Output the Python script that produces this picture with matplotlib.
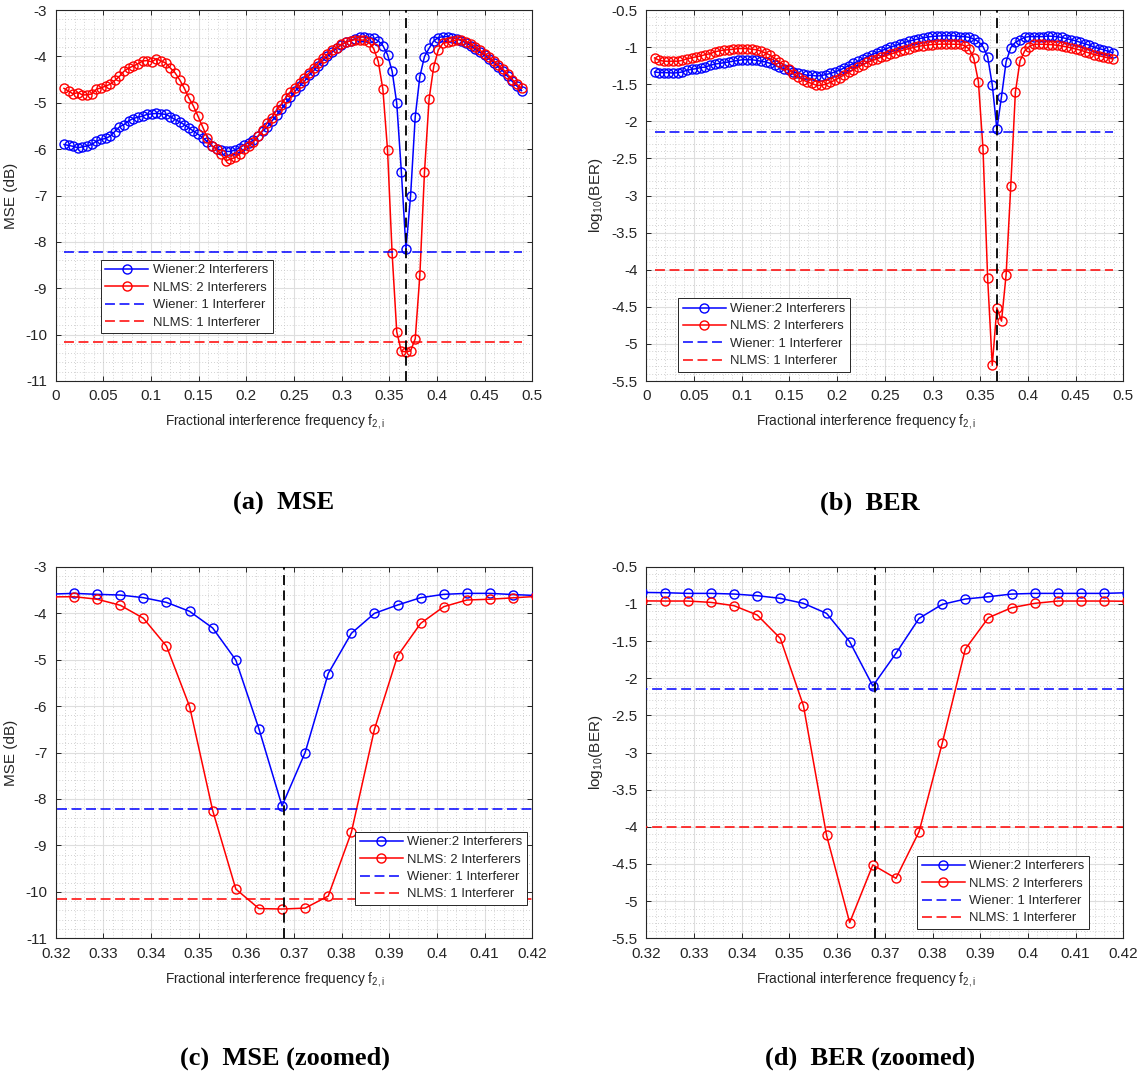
import numpy as np
import matplotlib
matplotlib.use("Agg")
import matplotlib.pyplot as plt
from matplotlib.ticker import MultipleLocator, FuncFormatter

plt.rcParams['font.family'] = ['Liberation Sans', 'DejaVu Sans']
plt.rcParams['axes.unicode_minus'] = False
plt.rcParams['mathtext.fontset'] = 'custom'
plt.rcParams['mathtext.rm'] = 'Liberation Sans'
plt.rcParams['mathtext.it'] = 'Liberation Sans'

# Fractional frequency grid of the second interferer (100 points)
freq = np.linspace(0.0087, 0.4887, 100)
f_interferer = 0.368

# MSE (dB) with two interferers
mse_wiener = [
    -5.90, -5.92, -5.94, -5.97, -5.95, -5.93, -5.90, -5.83, -5.79, -5.77,
    -5.72, -5.62, -5.52, -5.47, -5.39, -5.34, -5.31, -5.29, -5.25, -5.24,
    -5.23, -5.24, -5.25, -5.30, -5.36, -5.41, -5.47, -5.54, -5.61, -5.68,
    -5.75, -5.84, -5.93, -5.99, -6.02, -6.05, -6.05, -6.02, -5.97, -5.91,
    -5.86, -5.81, -5.72, -5.61, -5.52, -5.39, -5.27, -5.14, -5.01, -4.88,
    -4.75, -4.64, -4.54, -4.41, -4.31, -4.20, -4.09, -4.00, -3.91, -3.82,
    -3.75, -3.69, -3.66, -3.62, -3.59, -3.574, -3.595, -3.61, -3.667, -3.768,
    -3.961, -4.32, -5.01, -6.49, -8.15, -7.00, -5.30, -4.435, -4.004, -3.825,
    -3.667, -3.595, -3.574, -3.574, -3.60, -3.62, -3.66, -3.71, -3.77, -3.84,
    -3.91, -3.98, -4.05, -4.14, -4.23, -4.32, -4.43, -4.54, -4.64, -4.74,
]
mse_nlms = [
    -4.69, -4.75, -4.81, -4.78, -4.83, -4.83, -4.81, -4.71, -4.68, -4.64,
    -4.60, -4.52, -4.43, -4.32, -4.25, -4.21, -4.16, -4.10, -4.09, -4.12,
    -4.05, -4.10, -4.14, -4.25, -4.35, -4.50, -4.68, -4.89, -5.07, -5.29,
    -5.52, -5.75, -5.93, -6.00, -6.11, -6.25, -6.22, -6.18, -6.11, -6.00,
    -5.93, -5.84, -5.72, -5.59, -5.43, -5.32, -5.16, -5.04, -4.89, -4.76,
    -4.68, -4.57, -4.46, -4.36, -4.25, -4.14, -4.04, -3.95, -3.87, -3.81,
    -3.74, -3.70, -3.66, -3.64, -3.65, -3.646, -3.70, -3.83, -4.11, -4.71,
    -6.01, -8.25, -9.94, -10.36, -10.37, -10.35, -10.09, -8.72, -6.50, -4.92,
    -4.22, -3.86, -3.717, -3.70, -3.67, -3.64, -3.64, -3.68, -3.73, -3.80,
    -3.87, -3.94, -4.02, -4.10, -4.19, -4.28, -4.39, -4.50, -4.60, -4.69,
]

# log10(BER) with two interferers
ber_wiener = [
    -1.335, -1.344, -1.345, -1.345, -1.35, -1.345, -1.335, -1.31, -1.30, -1.29,
    -1.275, -1.27, -1.245, -1.23, -1.22, -1.21, -1.20, -1.19, -1.18, -1.17,
    -1.17, -1.17, -1.18, -1.19, -1.20, -1.22, -1.245, -1.27, -1.29, -1.31,
    -1.335, -1.35, -1.365, -1.38, -1.38, -1.39, -1.385, -1.37, -1.355, -1.335,
    -1.31, -1.28, -1.25, -1.22, -1.19, -1.16, -1.13, -1.10, -1.075, -1.05,
    -1.025, -1.00, -0.98, -0.96, -0.94, -0.92, -0.905, -0.89, -0.875, -0.865,
    -0.857, -0.852, -0.848, -0.846, -0.846, -0.85, -0.859, -0.859, -0.868, -0.89,
    -0.926, -0.993, -1.128, -1.509, -2.105, -1.666, -1.195, -1.007, -0.935, -0.904,
    -0.868, -0.859, -0.859, -0.859, -0.859, -0.85, -0.855, -0.86, -0.87, -0.885,
    -0.90, -0.915, -0.935, -0.955, -0.975, -1.00, -1.02, -1.035, -1.055, -1.075,
]
ber_nlms = [
    -1.146, -1.178, -1.19, -1.19, -1.19, -1.19, -1.18, -1.155, -1.146, -1.13,
    -1.12, -1.10, -1.09, -1.065, -1.05, -1.04, -1.035, -1.03, -1.02, -1.02,
    -1.02, -1.03, -1.035, -1.055, -1.08, -1.11, -1.155, -1.20, -1.245, -1.30,
    -1.36, -1.40, -1.44, -1.47, -1.49, -1.515, -1.515, -1.50, -1.475, -1.445,
    -1.41, -1.375, -1.34, -1.305, -1.27, -1.235, -1.205, -1.18, -1.16, -1.135,
    -1.115, -1.095, -1.075, -1.055, -1.035, -1.02, -1.005, -0.99, -0.98, -0.972,
    -0.966, -0.962, -0.96, -0.96, -0.96, -0.962, -0.962, -0.98, -1.025, -1.15,
    -1.464, -2.37, -4.114, -5.289, -4.513, -4.693, -4.065, -2.877, -1.608, -1.186,
    -1.052, -0.993, -0.962, -0.962, -0.962, -0.965, -0.968, -0.975, -0.985, -0.995,
    -1.01, -1.025, -1.04, -1.06, -1.08, -1.10, -1.115, -1.13, -1.145, -1.16,
]

# Single-interferer reference levels
mse_wiener_1 = -8.22
mse_nlms_1 = -10.15
ber_wiener_1 = -2.14
ber_nlms_1 = -4.0

BLUE = (0, 0, 1)
RED = (1, 0, 0)
AXC = '#262626'

W, H = 1139, 1076
fig = plt.figure(figsize=(W / 100, H / 100), dpi=100)


def fig_axes(x0, y0, x1, y1):
    return fig.add_axes([x0 / W, 1 - y1 / H, (x1 - x0) / W, (y1 - y0) / H])


def fmt(v, pos):
    return '%g' % round(v, 6)


def draw(ax, y2w, y2n, y1w, y1n, xlim, ylim, xmaj, xmin, ymaj, ymin,
         ylabel, leg_loc, leg_anchor):
    ax.plot(freq, y2w, '-o', color=BLUE, mfc='none', ms=6.5, mew=1.0, lw=1.1,
            label='Wiener:2 Interferers', zorder=3)
    ax.plot(freq, y2n, '-o', color=RED, mfc='none', ms=6.5, mew=1.0, lw=1.1,
            label='NLMS: 2 Interferers', zorder=3)
    ax.plot([freq[0], freq[-1]], [y1w, y1w], color=BLUE, lw=1.1,
            dashes=(6.5, 3.0), label='Wiener: 1 Interferer', zorder=3)
    ax.plot([freq[0], freq[-1]], [y1n, y1n], color=RED, lw=1.1,
            dashes=(6.5, 3.0), label='NLMS: 1 Interferer', zorder=3)
    ax.axvline(f_interferer, color='black', lw=1.3, dashes=(5.5, 3.0), zorder=4)

    ax.set_xlim(*xlim)
    ax.set_ylim(*ylim)
    ax.xaxis.set_major_locator(MultipleLocator(xmaj))
    ax.xaxis.set_minor_locator(MultipleLocator(xmin))
    ax.yaxis.set_major_locator(MultipleLocator(ymaj))
    ax.yaxis.set_minor_locator(MultipleLocator(ymin))
    ax.xaxis.set_major_formatter(FuncFormatter(fmt))
    ax.yaxis.set_major_formatter(FuncFormatter(fmt))
    ax.grid(True, which='major', color='#dedede', lw=0.8, ls='-', zorder=0)
    ax.grid(True, which='minor', color='#c4c4c4', lw=0.6, ls=(0, (1, 2.5)), zorder=0)
    ax.set_axisbelow(True)
    ax.tick_params(which='major', direction='in', length=3.6, width=0.7,
                   top=True, right=True, colors=AXC, labelsize=11, pad=6)
    ax.tick_params(which='minor', length=0, top=True, right=True)
    for s in ax.spines.values():
        s.set_color(AXC)
        s.set_linewidth(0.8)

    ax.set_xlabel(r'Fractional interference frequency f$_{\mathrm{2,i}}$',
                  fontsize=9.8, color=AXC)
    ax.xaxis.set_label_coords(0.46, -0.084)
    ax.set_ylabel(ylabel, fontsize=11, color=AXC, labelpad=5)

    leg = ax.legend(loc=leg_loc, bbox_to_anchor=leg_anchor, borderaxespad=0,
                    fontsize=9.4, handlelength=3.3, handletextpad=0.35,
                    labelspacing=0.4, borderpad=0.35, numpoints=1,
                    fancybox=False, framealpha=1.0)
    leg.get_frame().set_edgecolor(AXC)
    leg.get_frame().set_linewidth(0.7)
    for t in leg.get_texts():
        t.set_color(AXC)


ax_a = fig_axes(55.7, 10, 532.3, 381)
draw(ax_a, mse_wiener, mse_nlms, mse_wiener_1, mse_nlms_1,
     (0, 0.5), (-11, -3), 0.05, 0.01, 1, 0.2, 'MSE (dB)',
     'lower left', (0.094, 0.129))

ax_b = fig_axes(646.3, 10, 1123.3, 381)
draw(ax_b, ber_wiener, ber_nlms, ber_wiener_1, ber_nlms_1,
     (0, 0.5), (-5.5, -0.5), 0.05, 0.01, 0.5, 0.1, r'log$_{10}$(BER)',
     'lower left', (0.067, 0.025))

ax_c = fig_axes(55.7, 566.7, 532.3, 938.3)
draw(ax_c, mse_wiener, mse_nlms, mse_wiener_1, mse_nlms_1,
     (0.32, 0.42), (-11, -3), 0.01, 0.002, 1, 0.2, 'MSE (dB)',
     'lower right', (0.9895, 0.0896))

ax_d = fig_axes(646.3, 566.7, 1123.3, 938.3)
draw(ax_d, ber_wiener, ber_nlms, ber_wiener_1, ber_nlms_1,
     (0.32, 0.42), (-5.5, -0.5), 0.01, 0.002, 0.5, 0.1, r'log$_{10}$(BER)',
     'lower right', (0.9287, 0.025))

cap = dict(fontsize=19, fontweight='bold', family='Liberation Serif',
           ha='center', va='center', color='black')
fig.text(284 / W, 1 - 503 / H, '(a)  MSE', **cap)
fig.text(870 / W, 1 - 503 / H, '(b)  BER', **cap)
fig.text(285 / W, 1 - 1058 / H, '(c)  MSE (zoomed)', **cap)
fig.text(870 / W, 1 - 1058 / H, '(d)  BER (zoomed)', **cap)

fig.savefig('out.png', dpi=100, facecolor='white')
